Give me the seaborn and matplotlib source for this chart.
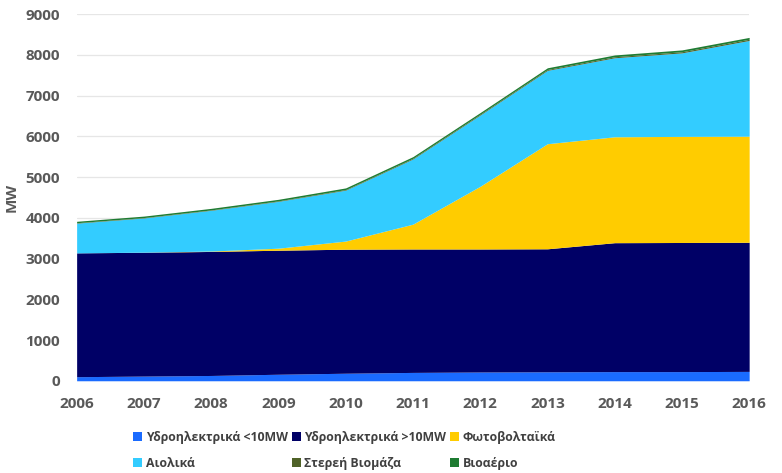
import numpy as np
import matplotlib
matplotlib.use("Agg")
import matplotlib.pyplot as plt
import seaborn as sns
from matplotlib.patches import Patch

years = [2006, 2007, 2008, 2009, 2010, 2011, 2012, 2013, 2014, 2015, 2016]
small_hydro = [100, 115, 130, 160, 185, 205, 215, 220, 225, 225, 230]
large_hydro = [3040, 3040, 3045, 3045, 3045, 3030, 3020, 3020, 3165, 3170, 3170]
solar_pv = [0, 2, 10, 50, 200, 610, 1540, 2580, 2600, 2605, 2605]
wind = [730, 840, 1000, 1150, 1250, 1600, 1750, 1800, 1940, 2050, 2350]
biomass = [10, 10, 10, 12, 15, 18, 20, 22, 25, 28, 30]
biogas = [35, 36, 38, 38, 40, 40, 40, 42, 44, 45, 45]

labels = ["Υδροηλεκτρικά <10MW", "Υδροηλεκτρικά >10MW", "Φωτοβολταϊκά",
          "Αιολικά", "Στερεή Βιομάζα", "Βιοαέριο"]
colors = ["#1A6BFF", "#000066", "#FFCC00", "#33CCFF", "#4F6228", "#1E7B32"]

sns.set_theme(style="whitegrid")
plt.rcParams["font.family"] = ["Open Sans", "DejaVu Sans"]

fig, ax = plt.subplots(figsize=(7.82, 4.73), dpi=100)
fig.subplots_adjust(left=0.098, right=0.958, top=0.970, bottom=0.195)

ax.stackplot(years, small_hydro, large_hydro, solar_pv, wind, biomass, biogas,
             colors=colors, linewidth=0)

ax.set_xlim(2006, 2016)
ax.set_ylim(0, 9000)
ax.set_xticks(years)
ax.set_yticks(range(0, 9001, 1000))
ax.grid(axis="x", visible=False)
ax.grid(axis="y", color="#E6E6E6", linewidth=0.9)
ax.set_axisbelow(True)
for s in ax.spines.values():
    s.set_visible(False)
ax.tick_params(axis="both", colors="#595959", labelsize=11, pad=6)
for t in ax.get_xticklabels() + ax.get_yticklabels():
    t.set_fontweight("bold")
ax.set_ylabel("MW", fontsize=11, fontweight="bold", color="#595959", labelpad=5)

handles = [Patch(facecolor=c, edgecolor="none") for c in colors]
order = [0, 3, 1, 4, 2, 5]
leg = fig.legend([handles[i] for i in order], [labels[i] for i in order],
                 ncol=3, loc="lower left", bbox_to_anchor=(0.157, -0.016),
                 frameon=False, prop={"size": 8.8, "weight": "bold"},
                 handlelength=0.75, handleheight=0.75,
                 handletextpad=0.3, columnspacing=0.3, labelspacing=1.1,
                 borderpad=0.35)
for t in leg.get_texts():
    t.set_color("#404040")

fig.savefig("out.png", dpi=100)
